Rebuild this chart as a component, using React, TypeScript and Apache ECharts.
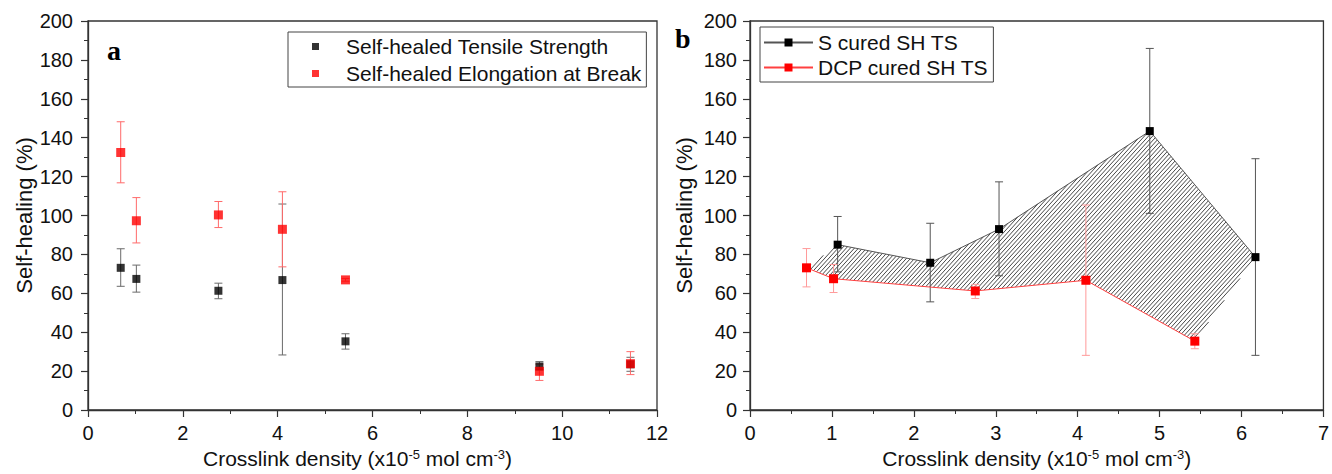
import { useEffect, useRef } from "react";
import * as echarts from "echarts";

// ---------- Panel a data ----------
const aX = [0.69, 1.02, 2.75, 4.1, 5.43, 9.52, 11.44];
const aTS = [73.1, 67.4, 61.3, 66.8, 35.3, 22.4, 23.5];
const aTSLow = [63.6, 60.6, 57.2, 28.3, 31.3, 20.6, 19.9];
const aTSHigh = [82.9, 74.5, 65.2, 105.9, 39.2, 24.9, 27.1];
const aEB = [132.4, 97.3, 100.3, 92.9, 66.9, 19.9, 23.8];
const aEBLow = [116.8, 85.9, 93.8, 73.6, 66.2, 15.2, 18.2];
const aEBHigh = [148.2, 109.2, 107.2, 112.2, 67.6, 23.6, 30.0];

// ---------- Panel b data ----------
const bSX = [1.07, 2.2, 3.04, 4.88, 6.17];
const bS = [85.0, 75.7, 93.0, 143.4, 78.6];
const bSLow = [71.0, 55.6, 69.0, 101.1, 28.1];
const bSHigh = [99.5, 96.0, 117.3, 185.9, 129.2];
const bDX = [0.69, 1.02, 2.75, 4.1, 5.43];
const bD = [73.1, 67.5, 61.2, 66.7, 35.4];
const bDLow = [63.3, 60.4, 57.3, 28.1, 31.5];
const bDHigh = [83.0, 74.8, 64.6, 105.4, 39.2];

// ---------- Labels ----------
const nameTS = "Self-healed Tensile Strength";
const nameEB = "Self-healed Elongation at Break";
const nameS = "S cured SH TS";
const nameD = "DCP cured SH TS";
const yTitle = "Self-healing (%)";
const xTitle = "Crosslink density (x10{sup|-5} mol cm{sup|-3})";

const FONT = "'Liberation Sans', Arial, sans-serif";

const pts = (xs: number[], ys: number[]) => xs.map((x, i) => [x, ys[i]]);
const bars = (xs: number[], lo: number[], hi: number[]) => xs.map((x, i) => [x, lo[i], hi[i]]);

function errorBar(color: string, capW: number) {
  return (_params: any, api: any) => {
    const x = api.value(0);
    const lo = api.coord([x, api.value(1)]);
    const hi = api.coord([x, api.value(2)]);
    const style = { stroke: color, lineWidth: 1 };
    return {
      type: "group",
      children: [
        { type: "line", shape: { x1: hi[0], y1: hi[1], x2: lo[0], y2: lo[1] }, style },
        { type: "line", shape: { x1: hi[0] - capW / 2, y1: hi[1], x2: hi[0] + capW / 2, y2: hi[1] }, style },
        { type: "line", shape: { x1: lo[0] - capW / 2, y1: lo[1], x2: lo[0] + capW / 2, y2: lo[1] }, style },
      ],
    };
  };
}

// polygon between S cured (top) and DCP cured (bottom) curves
const hatchPoly: number[][] = [
  [bDX[0], bD[0]],
  ...pts(bSX, bS),
  ...pts(bDX, bD).slice(1).reverse(),
];

function hatchItem(params: any, api: any) {
  if (params.dataIndex !== 0) return null;
  const poly = hatchPoly.map((p) => api.coord(p));
  const k = 1.1;
  const step = 4.5;
  const n = poly.length;
  const cs = poly.map((p) => p[1] + k * p[0]);
  const cmin = Math.min(...cs);
  const cmax = Math.max(...cs);
  const children: any[] = [];
  for (let c = Math.ceil(cmin / step) * step; c <= cmax; c += step) {
    const xs: number[] = [];
    for (let i = 0; i < n; i++) {
      const a = poly[i];
      const b = poly[(i + 1) % n];
      const fa = a[1] + k * a[0] - c;
      const fb = b[1] + k * b[0] - c;
      if (fa < 0 !== fb < 0) {
        const t = fa / (fa - fb);
        xs.push(a[0] + t * (b[0] - a[0]));
      }
    }
    xs.sort((p, q) => p - q);
    for (let j = 0; j + 1 < xs.length; j += 2) {
      children.push({
        type: "line",
        shape: { x1: xs[j], y1: c - k * xs[j], x2: xs[j + 1], y2: c - k * xs[j + 1] },
        style: { stroke: "#333", lineWidth: 0.9 },
      });
    }
  }
  return { type: "group", children };
}

const axisBase = {
  axisLine: { show: true, onZero: false, lineStyle: { color: "#333", width: 1.3 } },
  axisTick: { show: true, length: 7, lineStyle: { color: "#333", width: 1.2 } },
  minorTick: { show: true, splitNumber: 2, length: 4, lineStyle: { color: "#333", width: 1 } },
  splitLine: { show: false },
};

function xAxis(gridIndex: number, max: number, interval: number, margin: number, nameGap: number, pad: number[]) {
  return {
    type: "value",
    gridIndex,
    min: 0,
    max,
    interval,
    ...axisBase,
    axisLabel: { color: "#111", fontSize: 20, fontFamily: FONT, margin },
    name: xTitle,
    nameLocation: "middle",
    nameGap,
    nameTextStyle: {
      color: "#111",
      fontSize: 21,
      fontFamily: FONT,
      padding: pad,
      rich: { sup: { fontSize: 13, fontFamily: FONT, color: "#111", verticalAlign: "top", lineHeight: 13 } },
    },
  };
}

function yAxis(gridIndex: number, margin: number, nameGap: number) {
  return {
    type: "value",
    gridIndex,
    min: 0,
    max: 200,
    interval: 20,
    ...axisBase,
    axisLabel: { color: "#111", fontSize: 20, fontFamily: FONT, margin },
    name: yTitle,
    nameLocation: "middle",
    nameGap,
    nameTextStyle: { color: "#111", fontSize: 22, fontFamily: FONT },
  };
}

export default function App() {
  const ref = useRef<HTMLDivElement>(null);
  useEffect(() => {
    if (!ref.current) return;
    const chart = echarts.init(ref.current, undefined, { renderer: "svg" });
    const gridStyle = { show: true, borderColor: "#333", borderWidth: 1.3, backgroundColor: "transparent" };
    chart.setOption({
      animation: false,
      backgroundColor: "#fff",
      grid: [
        { left: 88, top: 21, width: 569, height: 397, ...gridStyle },
        { left: 750, top: 21, width: 576, height: 397, ...gridStyle },
      ],
      xAxis: [xAxis(0, 12, 2, 13, 38, [0, 30, 0, 0]), xAxis(1, 7, 1, 13, 38, [0, 0, 0, 0])],
      yAxis: [yAxis(0, 15, 53), yAxis(1, 13, 55)],
      legend: [
        {
          data: [nameTS, nameEB],
          orient: "vertical",
          left: 288,
          top: 32,
          padding: [4, 5, 3, 24],
          itemGap: 6,
          itemWidth: 7,
          itemHeight: 7,
          icon: "rect",
          borderColor: "#444",
          borderWidth: 1,
          textStyle: { fontSize: 21, fontFamily: FONT, color: "#111", padding: [0, 0, 0, 22] },
        },
        {
          data: [nameS, nameD],
          orient: "vertical",
          left: 760,
          top: 27,
          padding: [5, 5, 4, 3],
          itemGap: 4,
          itemWidth: 49,
          itemHeight: 10,
          borderColor: "#444",
          borderWidth: 1,
          textStyle: { fontSize: 21, fontFamily: FONT, color: "#111" },
        },
      ],
      graphic: [
        {
          type: "text",
          left: 107,
          top: 36,
          style: { text: "a", font: "bold 28px 'Liberation Serif', 'Times New Roman', serif", fill: "#000" },
        },
        {
          type: "text",
          left: 675,
          top: 24,
          style: { text: "b", font: "bold 28px 'Liberation Serif', 'Times New Roman', serif", fill: "#000" },
        },
      ],
      series: [
        // ----- panel a -----
        {
          type: "custom",
          name: "TS error",
          xAxisIndex: 0,
          yAxisIndex: 0,
          renderItem: errorBar("#6a6a6a", 8),
          encode: { x: 0, y: [1, 2] },
          data: bars(aX, aTSLow, aTSHigh),
        },
        {
          type: "custom",
          name: "EB error",
          xAxisIndex: 0,
          yAxisIndex: 0,
          renderItem: errorBar("#ff6a6a", 8),
          encode: { x: 0, y: [1, 2] },
          data: bars(aX, aEBLow, aEBHigh),
        },
        {
          type: "scatter",
          name: nameTS,
          xAxisIndex: 0,
          yAxisIndex: 0,
          symbol: "rect",
          symbolSize: 8,
          itemStyle: { color: "#000" },
          data: pts(aX, aTS),
        },
        {
          type: "scatter",
          name: nameEB,
          xAxisIndex: 0,
          yAxisIndex: 0,
          symbol: "rect",
          symbolSize: 9,
          itemStyle: { color: "#ff0000" },
          data: pts(aX, aEB),
        },
        // ----- panel b -----
        {
          type: "custom",
          name: "hatch",
          xAxisIndex: 1,
          yAxisIndex: 1,
          renderItem: hatchItem,
          encode: { x: 0, y: 1 },
          data: [hatchPoly[0]],
          silent: true,
        },
        {
          type: "custom",
          name: "S error",
          xAxisIndex: 1,
          yAxisIndex: 1,
          renderItem: errorBar("#555", 8),
          encode: { x: 0, y: [1, 2] },
          data: bars(bSX, bSLow, bSHigh),
        },
        {
          type: "custom",
          name: "DCP error",
          xAxisIndex: 1,
          yAxisIndex: 1,
          renderItem: errorBar("#ff9a9a", 8),
          encode: { x: 0, y: [1, 2] },
          data: bars(bDX, bDLow, bDHigh),
        },
        {
          type: "line",
          name: nameS,
          xAxisIndex: 1,
          yAxisIndex: 1,
          symbol: "rect",
          symbolSize: 8,
          lineStyle: { color: "#555", width: 1 },
          itemStyle: { color: "#000" },
          data: pts(bSX, bS),
        },
        {
          type: "line",
          name: nameD,
          xAxisIndex: 1,
          yAxisIndex: 1,
          symbol: "rect",
          symbolSize: 9,
          lineStyle: { color: "#ff4040", width: 1 },
          itemStyle: { color: "#ff0000" },
          data: pts(bDX, bD),
        },
      ],
    });
    return () => chart.dispose();
  }, []);
  return (
    <div
      ref={ref}
      style={{ position: "fixed", left: 0, top: 0, width: 1332, height: 474, background: "#fff" }}
    />
  );
}
